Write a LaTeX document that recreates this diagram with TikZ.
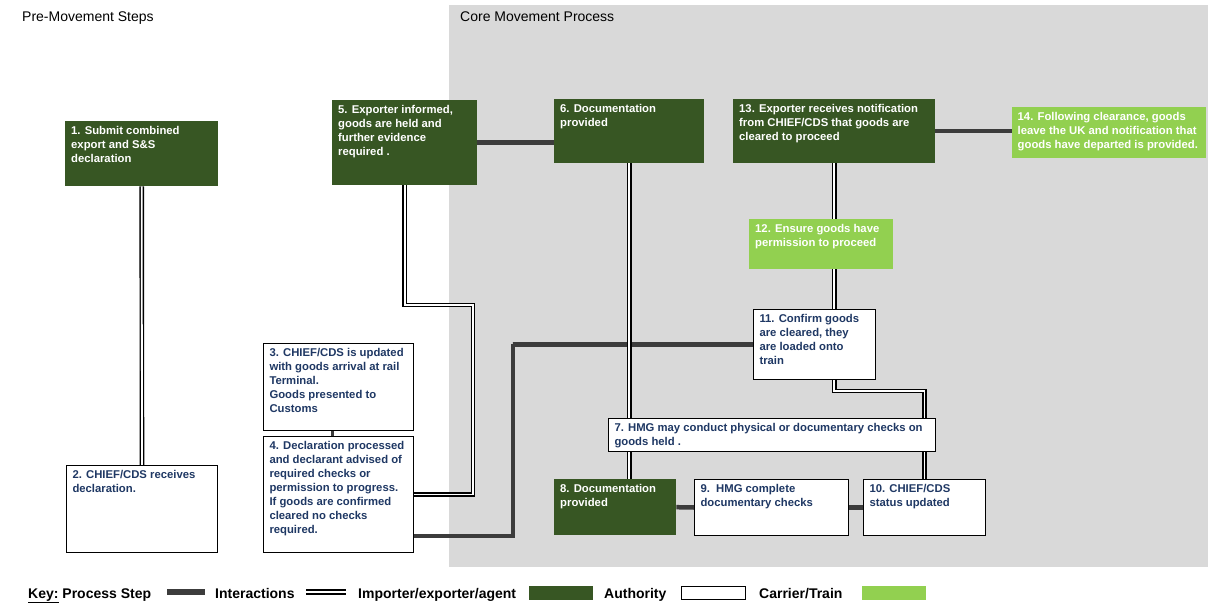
\documentclass[tikz,border=0pt]{standalone}
\usepackage{fontspec}
\setmainfont{Liberation Sans}
\usetikzlibrary{calc}
\definecolor{authgreen}{HTML}{375623}
\definecolor{trainlime}{HTML}{92D050}
\definecolor{stepblue}{HTML}{1F3864}
\definecolor{intgrey}{HTML}{3C3C3C}
\definecolor{coregrey}{HTML}{D9D9D9}
\newcommand\stepfont{\fontsize{11.3}{14}\selectfont\bfseries}
\newcommand\keyfont{\fontsize{14}{16}\selectfont\bfseries}
\pgfdeclarelayer{back}
\pgfdeclarelayer{lines}
\pgfsetlayers{back,lines,main}
\tikzset{
  stepbox/.style 2 args={anchor=north west,inner xsep=6pt,inner ysep=5pt,font=\stepfont,
    execute at begin node={\begin{minipage}[c][#2][t]{#1}\raggedright},
    execute at end node={\end{minipage}}},
  auth/.style 2 args={stepbox={#1}{#2},fill=authgreen,text=white},
  carrier/.style 2 args={stepbox={#1}{#2},fill=trainlime,text=white},
  proc/.style 2 args={stepbox={#1}{#2},fill=white,draw=black,line width=1pt,text=stepblue},
  inter/.style={draw=intgrey,line width=4.5pt},
  agent/.style={draw=black,double=white,line width=1.4pt,double distance=1.8pt},
  keytext/.style={anchor=base west,font=\keyfont,inner sep=0pt},
  heading/.style={anchor=base west,font=\fontsize{14}{16}\selectfont,inner sep=0pt}
}

\begin{document}
\begin{tikzpicture}[x=1pt,y=-1pt]
\useasboundingbox (0,0) rectangle (1208,610);

\begin{pgfonlayer}{back}
\fill[coregrey] (449,5) rectangle (1208,567);
\end{pgfonlayer}

\node[heading] (premove) at (22,22) {Pre-Movement Steps};
\node[heading] (coremove) at (460,22) {Core Movement Process};

% process steps
\node[auth={141pt}{55pt}] (b1) at (65,121) {1. Submit combined\\export and S\&S\\declaration};
\node[proc={139pt}{77pt}] (b2) at (66,465) {2. CHIEF/CDS receives\\declaration.};
\node[proc={138pt}{77pt}] (b3) at (263,343) {3. CHIEF/CDS is updated\\with goods arrival at rail\\Terminal.\\Goods presented to\\Customs};
\node[proc={138pt}{106pt}] (b4) at (263,436) {4. Declaration processed\\and declarant advised of\\required checks or\\permission to progress.\\If goods are confirmed\\cleared no checks\\required.};
\node[auth={133pt}{75pt}] (b5) at (332,100) {5. Exporter informed,\\goods are held and\\further evidence\\required .};
\node[auth={138pt}{54pt}] (b6) at (554,99) {6. Documentation\\provided};
\node[proc={315pt}{23pt}] (b7) at (608,418) {7. HMG may conduct physical or documentary checks on\\goods held .};
\node[auth={110pt}{46pt}] (b8) at (554,479) {8. Documentation\\provided};
\node[proc={142pt}{46pt}] (b9) at (694,479) {9.\ \ HMG complete\\documentary checks};
\node[proc={110pt}{46pt}] (b10) at (863,479) {10. CHIEF/CDS\\status updated};
\node[proc={110pt}{60pt}] (b11) at (753,309) {11. Confirm goods\\are cleared, they\\are loaded onto\\train};
\node[carrier={132pt}{40pt}] (b12) at (749,219) {12. Ensure goods have\\permission to proceed};
\node[auth={190pt}{54pt}] (b13) at (733,99) {13. Exporter receives notification\\from CHIEF/CDS that goods are\\cleared to proceed};
\node[carrier={183pt}{41pt},inner xsep=5.5pt] (b14) at (1012,107) {14. Following clearance, goods\\leave the UK and notification that\\goods have departed is provided.};

\coordinate (k1) at (473,305);
\coordinate (k2) at (513,344);

% connectors
\begin{pgfonlayer}{lines}
\draw[agent] (b1.south) -- (b2.north);
\draw[agent] (b5.south) |- (k1) |- (b4.east);
\draw[inter,line width=3.5pt] ($(b3.south)+(-6,0)$) -- ($(b4.north)+(-6,0)$);
\draw[inter] ($(b4.south east)+(0,-17)$) -| (k2) |- (b11.west);
\draw[inter] (b5.east) -- (b5.east -| b6.west);
\draw[agent] (b6.south) -- (b6.south |- b8.north);
\draw[inter] (b8.east) -- (b9.west);
\draw[inter] (b9.east) -- (b10.west);
\draw[agent] (b13.south) -- (b13.south |- b11.north);
\draw[agent] (b13.south |- b11.south) -- ++(0,11) -| (b10.north);
\draw[inter] (b13.east) -- (b13.east -| b14.west);
\end{pgfonlayer}

% key
\node[keytext] (kproc) at (28,598) {\underline{Key:} Process Step};
\coordinate (ki1) at (167,592);
\coordinate (ki2) at (205,592);
\draw[draw=intgrey,line width=6pt] (ki1) -- (ki2);
\node[keytext] (kint) at (215,598) {Interactions};
\coordinate (ka1) at (306,592);
\coordinate (ka2) at (346,592);
\draw[agent,line width=1.8pt,double distance=2.2pt] (ka1) -- (ka2);
\node[keytext] (kagent) at (358,598) {Importer/exporter/agent};
\node[fill=authgreen,minimum width=64pt,minimum height=14pt,inner sep=0pt] (kauth) at (561,593) {};
\node[keytext] (kauthtxt) at (604,598) {Authority};
\node[draw=black,fill=white,line width=1pt,minimum width=64pt,minimum height=13pt,inner sep=0pt] (kcar) at (713.5,592.5) {};
\node[keytext] (kcartxt) at (759,598) {Carrier/Train};
\node[fill=trainlime,minimum width=64pt,minimum height=14pt,inner sep=0pt] (ktrain) at (894,593) {};
\end{tikzpicture}
\end{document}
